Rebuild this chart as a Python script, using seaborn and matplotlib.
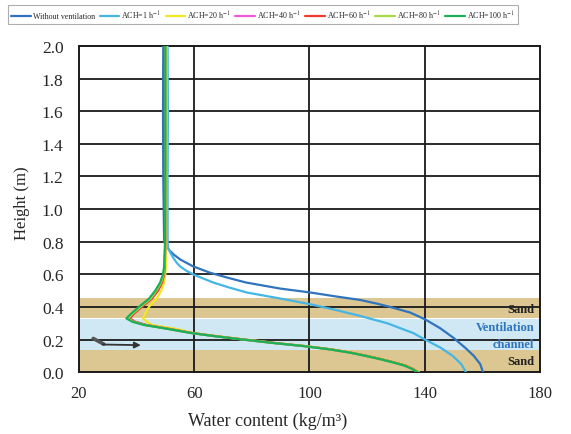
import matplotlib
matplotlib.use("Agg")
import matplotlib.pyplot as plt
import numpy as np
import pandas as pd
import seaborn as sns

# ---- moisture profiles: height (m) vs water content (kg/m3) ----
series_names = ["Without ventilation", "ACH=1 h$^{-1}$", "ACH=20 h$^{-1}$",
                "ACH=40 h$^{-1}$", "ACH=60 h$^{-1}$", "ACH=80 h$^{-1}$",
                "ACH=100 h$^{-1}$"]
series_colors = ["#2F74BC", "#45B6E4", "#F4E81C", "#F45AD0", "#F23A2E",
                 "#A6DB45", "#1BAF5A"]

h_none = [2.0, 1.6, 1.2, 0.8, 0.78, 0.75, 0.72, 0.69, 0.65, 0.61, 0.58, 0.55,
          0.513, 0.489, 0.465, 0.443, 0.42, 0.40, 0.366, 0.324, 0.27, 0.21,
          0.15, 0.10, 0.05, 0.0]
wc_none = [49.3, 49.2, 49.3, 49.6, 50.2, 51.3, 53.0, 55.3, 59.5, 65.5, 71.5,
           78.0, 89.8, 100.2, 109.0, 117.6, 123.5, 128.0, 134.9, 140.1, 145.3,
           150.0, 154.0, 157.0, 159.2, 160.2]

h_ach1 = [2.0, 1.6, 1.2, 0.8, 0.76, 0.73, 0.70, 0.67, 0.649, 0.62, 0.595,
          0.55, 0.52, 0.489, 0.452, 0.417, 0.38, 0.345, 0.30, 0.24, 0.20,
          0.15, 0.10, 0.05, 0.0]
wc_ach1 = [50.8, 50.9, 50.8, 50.8, 51.0, 51.8, 52.8, 54.0, 55.1, 57.5, 60.3,
           66.6, 72.0, 78.2, 89.8, 100.2, 109.5, 117.6, 127.0, 136.0, 140.1,
           145.5, 149.7, 152.6, 154.3]

h_vent = [2.0, 1.6, 1.2, 0.8, 0.65, 0.60, 0.55, 0.50, 0.45, 0.40, 0.36, 0.33,
          0.31, 0.29, 0.265, 0.24, 0.22, 0.20, 0.18, 0.16, 0.14, 0.12, 0.10,
          0.08, 0.06, 0.04, 0.02, 0.0]
wc_ach20 = [50.4, 50.4, 50.3, 50.3, 50.2, 50.0, 49.6, 48.6, 47.0, 44.3, 43.0,
            42.3, 43.5, 45.2, 53.9, 60.0, 68.5, 78.0, 88.0, 99.0, 108.0, 115.0,
            120.5, 125.5, 130.0, 134.0, 136.3, 138.0]
wc_ach40 = [50.0, 50.0, 50.0, 50.0, 49.8, 49.5, 48.7, 47.2, 45.0, 41.6, 39.0,
            37.8, 39.5, 43.4, 51.6, 59.5, 68.0, 77.5, 87.5, 98.5, 107.5, 114.5,
            120.0, 125.0, 129.5, 133.5, 136.0, 137.7]
wc_ach60 = [50.0, 50.0, 50.0, 50.0, 49.8, 49.6, 48.9, 47.5, 45.3, 41.8, 39.2,
            37.5, 39.3, 43.2, 51.5, 59.4, 67.9, 77.4, 87.4, 98.4, 107.4, 114.4,
            119.9, 124.9, 129.4, 133.4, 135.9, 137.7]
wc_ach80 = [50.1, 50.1, 50.1, 50.0, 49.7, 49.4, 48.5, 46.9, 44.8, 41.3, 38.7,
            37.0, 38.9, 42.8, 51.2, 59.2, 67.7, 77.2, 87.2, 98.2, 107.2, 114.2,
            119.7, 124.7, 129.2, 133.2, 135.8, 137.6]
wc_ach100 = [50.0, 50.0, 50.0, 49.9, 49.6, 49.2, 48.2, 46.5, 44.3, 40.8, 38.2,
             36.5, 38.5, 42.5, 51.0, 59.0, 67.5, 77.0, 87.0, 98.0, 107.0, 114.0,
             119.5, 124.5, 129.0, 133.0, 135.6, 137.5]

# wall layers (bottom, top, fill colour)
layer_bounds = [(0.0, 0.135), (0.135, 0.325), (0.335, 0.452)]
layer_colors = ["#DCC691", "#CFE8F3", "#DCC691"]

x_ticks = [20, 60, 100, 140, 180]
y_ticks = [0.0, 0.2, 0.4, 0.6, 0.8, 1.0, 1.2, 1.4, 1.6, 1.8, 2.0]

heights = [h_none, h_ach1, h_vent, h_vent, h_vent, h_vent, h_vent]
contents = [wc_none, wc_ach1, wc_ach20, wc_ach40, wc_ach60, wc_ach80, wc_ach100]

frames = []
for name, h, w in zip(series_names, heights, contents):
    frames.append(pd.DataFrame({"series": name, "height": h, "water": w}))
df = pd.concat(frames, ignore_index=True)

sns.set_theme(style="white")
plt.rcParams["font.family"] = ["Liberation Serif", "DejaVu Serif"]
plt.rcParams["mathtext.fontset"] = "stix"

fig = plt.figure(figsize=(5.71, 4.35), dpi=100)
ax = fig.add_axes([0.138, 0.142, 0.946 - 0.138, 0.892 - 0.142])

for (y0, y1), c in zip(layer_bounds, layer_colors):
    ax.axhspan(y0, y1, color=c, lw=0, zorder=0)

for xv in x_ticks[1:-1]:
    ax.axvline(xv, color="#1a1a1a", lw=1.3, zorder=1)
for yv in y_ticks[1:-1]:
    ax.axhline(yv, color="#1a1a1a", lw=1.3, zorder=1)

sns.lineplot(data=df, x="water", y="height", hue="series",
             hue_order=series_names, palette=series_colors,
             sort=False, estimator=None, orient="y", lw=1.6, ax=ax,
             zorder=3)

ax.set_xlim(20, 180)
ax.set_ylim(0, 2.0)
ax.set_xticks(x_ticks)
ax.set_yticks(y_ticks)
ax.set_yticklabels([f"{v:.1f}" for v in y_ticks])
ax.tick_params(axis="y", length=0, labelsize=12.5, pad=11)
ax.tick_params(axis="x", length=0, labelsize=12, pad=9)
ax.set_xlabel("Water content (kg/m³)", fontsize=13)
ax.set_ylabel("Height (m)", fontsize=12)
ax.xaxis.set_label_coords(0.41, -0.122)
ax.yaxis.set_label_coords(-0.105, 0.52)
for s in ax.spines.values():
    s.set_color("#1a1a1a")
    s.set_linewidth(1.4)

# layer names
ax.text(178, 0.385, "Sand", ha="right", va="center", fontsize=9,
        fontweight="bold", color="#222222", zorder=4)
ax.text(178, 0.275, "Ventilation", ha="right", va="center", fontsize=9,
        fontweight="bold", color="#2F74BC", zorder=4)
ax.text(178, 0.17, "channel", ha="right", va="center", fontsize=9,
        fontweight="bold", color="#2F74BC", zorder=4)
ax.text(178, 0.07, "Sand", ha="right", va="center", fontsize=9,
        fontweight="bold", color="#222222", zorder=4)

# airflow arrow in the channel
ax.plot([25, 28.7], [0.207, 0.172], color="#555555", lw=2.6,
        solid_capstyle="round", zorder=4)
ax.annotate("", xy=(41.5, 0.166), xytext=(28.2, 0.170),
            arrowprops=dict(arrowstyle="-|>", color="#333333", lw=1.3,
                            mutation_scale=9, shrinkA=0, shrinkB=0),
            zorder=4)

handles, labels = ax.get_legend_handles_labels()
ax.get_legend().remove()
leg = fig.legend(handles, labels, loc="center", ncol=7, mode="expand",
                 bbox_to_anchor=(0.014, 0.936, 0.893, 0.056),
                 fontsize=5.8, frameon=True, fancybox=False,
                 edgecolor="#9a9a9a", handlelength=2.4, handletextpad=0.3,
                 columnspacing=0.5, borderaxespad=0)
leg.get_frame().set_linewidth(0.8)

fig.savefig("out.png", dpi=100, facecolor="white")
